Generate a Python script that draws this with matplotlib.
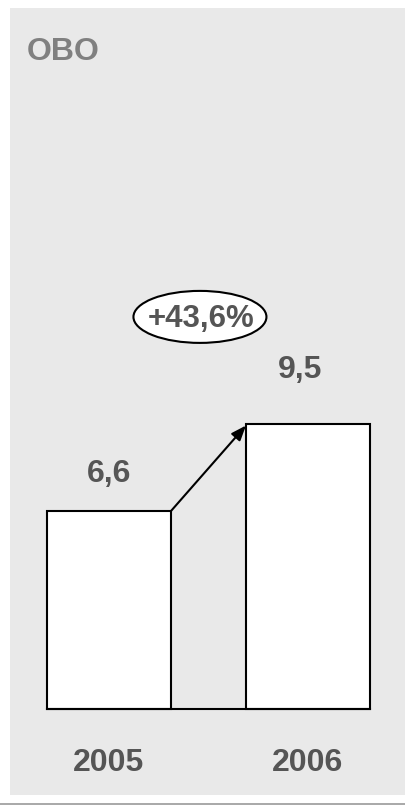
import matplotlib
matplotlib.use("Agg")
import matplotlib.pyplot as plt
from matplotlib.patches import Ellipse
from matplotlib.lines import Line2D

# data
years = ["2005", "2006"]
values = [6.6, 9.5]
value_labels = ["6,6", "9,5"]
growth_label = "+43,6%"
title = "OBO"

plt.rcParams['font.family'] = ['Liberation Sans', 'DejaVu Sans']

W, H = 406, 805
fig = plt.figure(figsize=(W / 100, H / 100), dpi=100)
fig.patch.set_facecolor("white")

# axes covers the gray panel (pixels x 10..406, y 8..795 from top)
ax = fig.add_axes([10 / W, (H - 795) / H, (W - 10) / W, 787 / H])
ax.set_facecolor("#e9e9e9")
for s in ax.spines.values():
    s.set_visible(False)
ax.set_xticks([])
ax.set_yticks([])

px = 199.0          # pixels per x unit
py = 30.0           # pixels per y unit
ax.set_xlim((10 - 109) / px, (406 - 109) / px)
ax.set_ylim(-(795 - 709) / py, (709 - 8) / py)

x = range(len(years))
bw = 124 / px
ax.bar(x, values, width=bw, color="white", edgecolor="black", linewidth=1.5, zorder=2)
ax.plot([-bw / 2, 1 + bw / 2], [0, 0], color="black", linewidth=1.5, zorder=3)

txt = "#555555"
offsets = [1.25, 1.8]
xshift = [0.0, -0.04]
for i, (v, lab) in enumerate(zip(values, value_labels)):
    ax.text(i + xshift[i], v + offsets[i], lab, ha="center", va="center",
            fontsize=23, fontweight="bold", color=txt)
for i, y in enumerate(years):
    ax.text(i, -1.8, y, ha="center", va="center",
            fontsize=23, fontweight="bold", color=txt)

# arrow from bar1 top-right to bar2 top-left
ax.annotate("", xy=(1 - bw / 2, values[1] - 0.05), xytext=(bw / 2, values[0]),
            arrowprops=dict(arrowstyle="-|>,head_length=0.9,head_width=0.35",
                            color="black", linewidth=1.5, shrinkA=0, shrinkB=0),
            zorder=4)

# growth ellipse
ell = Ellipse((0.457, 13.07), 133 / px, 52 / py, facecolor="white",
              edgecolor="black", linewidth=1.5, zorder=3)
ax.add_patch(ell)
ax.text(0.462, 13.0, growth_label, ha="center", va="center",
        fontsize=22.5, fontweight="bold", color=txt, zorder=4)

ax.text(17 / (W - 10), 1 - (52 - 8) / 787, title, transform=ax.transAxes,
        ha="left", va="center", fontsize=23, fontweight="bold", color="#808080")

# thin line at the bottom
fig.add_artist(Line2D([0, 1], [1.5 / H, 1.5 / H], color="#999999", linewidth=1.2))

fig.savefig("out.png", dpi=100)
